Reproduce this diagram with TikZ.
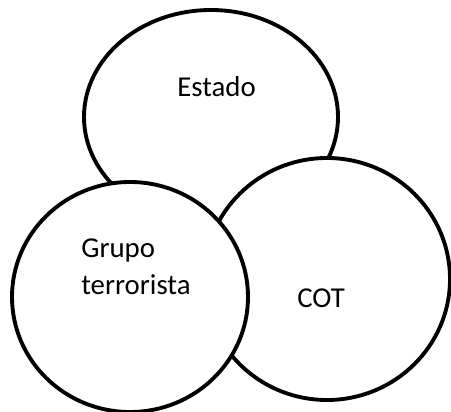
\documentclass[tikz,border=0pt]{standalone}
\usepackage{fontspec}
\setmainfont{Carlito}
\usepackage{tikz}
\tikzset{
  blob/.style={draw=black,fill=white,line width=2.2pt},
  lbl/.style={font=\fontsize{16.4}{21.5}\selectfont,inner sep=0pt,align=left}
}
\begin{document}
\begin{tikzpicture}[x=0.02cm,y=-0.02cm]
            \useasboundingbox (0,0) rectangle (451,412);
            \coordinate (E) at (211,117);
            \coordinate (C) at (327,279);
            \coordinate (G) at (130,297);
            \draw[blob] (E) ellipse (127 and 107);
            \draw[blob] (C) ellipse (123 and 121);
            \draw[blob] (G) ellipse (118 and 115);
            \node[lbl,anchor=base west] (estado) at (177,97) {Estado};
            \node[lbl,anchor=base west] (grupo) at (81,295) {Grupo\\terrorista};
            \node[lbl,anchor=base west] (cot) at (297,308) {COT};
        \end{tikzpicture}
\end{document}
